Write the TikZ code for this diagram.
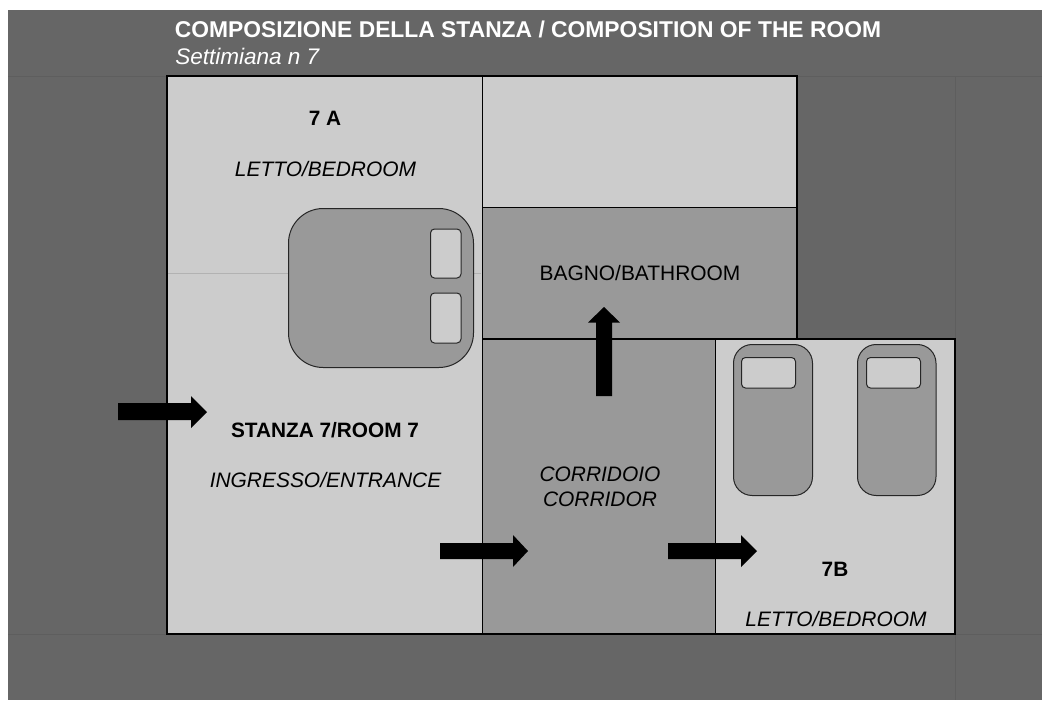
\documentclass[tikz,border=0pt]{standalone}
\usepackage{fontspec}
\setmainfont{Liberation Sans}
\definecolor{wall}{HTML}{666666}
\definecolor{lite}{HTML}{CCCCCC}
\definecolor{midg}{HTML}{999999}
\definecolor{seam}{HTML}{5E5E5E}
\tikzset{
  room/.style={draw=black,line width=1.2pt},
  furn/.style={draw=black!85,fill=midg,line width=0.75pt},
  pillow/.style={draw=black!85,fill=lite,line width=0.75pt,rounded corners=3pt},
  blockarrow/.style={fill=black,draw=none},
  lbl/.style={inner sep=0pt,font=\fontsize{15.7pt}{18pt}\selectfont,text=black},
  lblit/.style={lbl,font=\fontsize{15.7pt}{18pt}\selectfont\itshape},
  lblbf/.style={lbl,font=\fontsize{15.6pt}{18pt}\selectfont\bfseries}
}
\begin{document}
\begin{tikzpicture}[x=0.75pt,y=-0.75pt]
\useasboundingbox (0,0) rectangle (1051,711);
\fill[white] (0,0) rectangle (1051,711);
\fill[wall] (8,10) rectangle (1042,700);
% faint seams
\draw[seam,line width=0.5pt] (8,76) -- (1042,76);
\draw[seam,line width=0.5pt] (8,634) -- (1042,634);
\draw[seam,line width=0.5pt] (955,76) -- (955,700);
% rooms
\draw[room,fill=lite] (167,76) rectangle (482.5,634);
\draw[room,fill=lite] (482.5,76) rectangle (797,207.5);
\draw[room,fill=midg] (482.5,207.5) rectangle (797,339);
\draw[room,fill=midg] (482.5,339) rectangle (715.5,634);
\draw[room,fill=lite] (715.5,339) rectangle (955,634);
\draw[color=black!30,line width=0.6pt] (168,273) -- (481,273);
% double bed
\draw[furn,rounded corners=26pt] (288.5,208.5) rectangle (473.5,367.5);
\draw[pillow] (430.5,229) rectangle (461,278);
\draw[pillow] (430.5,293) rectangle (461,343);
% twin beds
\draw[furn,rounded corners=14pt] (733.5,344.5) rectangle (812.5,495.5);
\draw[pillow] (741.5,357.5) rectangle (795.5,388);
\draw[furn,rounded corners=14pt] (857.5,344.5) rectangle (936,495.5);
\draw[pillow] (866.5,357.5) rectangle (920.5,388);
% arrows
\fill[blockarrow] (118,403) -- (191,403) -- (191,396) -- (207,412) -- (191,428) -- (191,420) -- (118,420) -- cycle;
\fill[blockarrow] (440,543) -- (513,543) -- (513,535) -- (528,551) -- (513,567) -- (513,559) -- (440,559) -- cycle;
\fill[blockarrow] (668,543) -- (741,543) -- (741,535) -- (757,551) -- (741,567) -- (741,559) -- (668,559) -- cycle;
\fill[blockarrow] (596,396) -- (596,322.5) -- (588,322.5) -- (604,307) -- (620,322.5) -- (612,322.5) -- (612,396) -- cycle;
% text
\node[inner sep=0pt,anchor=base west,text=white,font=\fontsize{17.13pt}{20pt}\selectfont\bfseries] (title) at (174.5,37) {COMPOSIZIONE DELLA STANZA / COMPOSITION OF THE ROOM};
\node[inner sep=0pt,anchor=base west,text=white,font=\fontsize{16.9pt}{20pt}\selectfont\itshape] (sub) at (175,64.5) {Settimiana n 7};
\node[lblbf,anchor=base] (a7) at (325,125) {7 A};
\node[lblit,anchor=base] (abed) at (325.5,176) {LETTO/BEDROOM};
\node[lbl,anchor=base] (bath) at (640,280) {BAGNO/BATHROOM};
\node[lblbf,anchor=base] (r7) at (325,437) {STANZA 7/ROOM 7};
\node[lblit,anchor=base] (ing) at (325.5,487) {INGRESSO/ENTRANCE};
\node[lblit,anchor=base] (c1) at (600,481) {CORRIDOIO};
\node[lblit,anchor=base] (c2) at (600,506) {CORRIDOR};
\node[lblbf,anchor=base] (b7) at (835,576) {7B};
\node[lblit,anchor=base] (bbed) at (836,626) {LETTO/BEDROOM};
\end{tikzpicture}
\end{document}
